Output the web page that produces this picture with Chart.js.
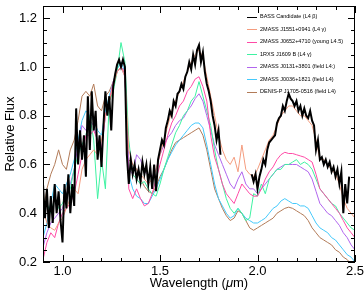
<!DOCTYPE html>
<html>
<head>
<meta charset="utf-8">
<script src="https://cdn.jsdelivr.net/npm/chart.js@4/dist/chart.umd.min.js"></script>
<style>
  html, body { margin: 0; padding: 0; background: #fff; }
  canvas { display: block; }
</style>
</head>
<body>
<canvas id="spec" width="364" height="291"></canvas>
<script>
// wavelength grids (micron)
const wlFine = [
  0.90,0.91,0.92,0.93,0.94,0.95,0.96,0.97,0.98,0.99,
  1.00,1.01,1.02,1.03,1.04,1.05,1.06,1.07,1.08,1.09,
  1.10,1.11,1.12,1.13,1.14,1.15,1.16,1.17,1.18,1.19,
  1.20,1.21,1.22,1.23,1.24,1.25,1.26,1.27,1.28,1.29,
  1.30,1.31,1.32,1.33,1.34,1.35,1.36,1.37,1.38,1.39,
  1.40,1.41,1.42,1.43,1.44,1.45,1.46,1.47,1.48,1.49,
  1.50,1.51,1.52,1.53,1.54,1.55,1.56,1.57,1.58,1.59,
  1.60,1.61,1.62,1.63,1.64,1.65,1.66,1.67,1.68,1.69,
  1.70,1.71,1.72,1.73,1.74,1.75,1.76,1.77,1.78,1.79,
  1.80,1.81,1.82,1.83,1.84,1.85,1.86,1.87,1.88,1.89,
  1.90,1.91,1.92,1.93,1.94,1.95,1.96,1.97,1.98,1.99,
  2.00,2.01,2.02,2.03,2.04,2.05,2.06,2.07,2.08,2.09,
  2.10,2.11,2.12,2.13,2.14,2.15,2.16,2.17,2.18,2.19,
  2.20,2.21,2.22,2.23,2.24,2.25,2.26,2.27,2.28,2.29,
  2.30,2.31,2.32,2.33,2.34,2.35,2.36,2.37,2.38,2.39,
  2.40,2.41,2.42,2.43,2.44,2.45,2.46,2.47
];
const wlCoarse = [
  0.90,0.92,0.94,0.96,0.98,1.00,1.02,1.04,1.06,1.08,
  1.10,1.12,1.14,1.16,1.18,1.20,1.22,1.24,1.26,1.28,
  1.30,1.32,1.34,1.36,1.38,1.40,1.42,1.44,1.46,1.48,
  1.50,1.52,1.54,1.56,1.58,1.60,1.62,1.64,1.66,1.68,
  1.70,1.72,1.74,1.76,1.78,1.80,1.82,1.84,1.86,1.88,
  1.90,1.92,1.94,1.96,1.98,2.00,2.02,2.04,2.06,2.08,
  2.10,2.12,2.14,2.16,2.18,2.20,2.22,2.24,2.26,2.28,
  2.30,2.32,2.34,2.36,2.38,2.40,2.42,2.44,2.46,2.48,
  2.50
];

// relative flux per object
const fluxBass = [
  0.52,0.38,0.50,0.34,0.47,0.36,0.52,0.40,0.49,0.37,
  0.28,0.52,0.42,0.56,0.40,0.52,0.43,0.83,0.60,0.74,
  0.62,0.72,0.55,0.88,0.66,0.90,0.74,0.82,0.62,0.72,
  0.59,0.76,0.90,0.80,0.88,0.74,0.92,0.97,1.01,1.03,
  1.00,1.03,1.00,0.64,0.52,0.62,0.56,0.60,0.54,0.58,
  0.53,0.61,0.56,0.60,0.52,0.59,0.50,0.60,0.49,0.62,
  0.66,0.70,0.68,0.75,0.78,0.82,0.80,0.86,0.84,0.89,
  0.90,0.93,0.91,0.96,0.98,1.02,0.99,1.05,1.01,1.07,
  1.09,1.02,1.06,0.98,0.93,0.90,0.86,0.80,0.76,0.70,
  0.74,0.64,null,null,null,null,null,null,null,null,
  null,null,null,null,null,null,null,0.56,0.53,0.56,
  0.50,0.55,0.58,0.62,0.60,0.66,0.69,0.70,0.71,0.72,
  0.77,0.79,0.80,0.84,0.82,0.86,0.89,0.87,0.86,0.84,
  0.86,0.82,0.84,0.80,0.83,0.80,0.79,0.82,0.78,0.76,
  0.66,0.70,0.62,0.63,0.60,0.62,0.59,0.61,0.57,0.59,
  0.55,0.58,0.52,0.57,0.40,0.52,0.44,0.55
];
const fluxJ1551 = [
  0.42,0.36,0.34,0.33,0.36,0.38,0.42,0.46,0.50,0.48,
  0.58,0.62,0.64,0.66,0.64,0.70,0.80,0.86,0.92,0.98,
  1.00,0.96,0.66,0.60,0.58,0.56,0.54,0.52,0.54,0.58,
  0.64,0.70,0.76,0.82,0.86,0.90,0.94,0.98,1.02,1.05,
  1.07,1.04,0.96,0.88,0.80,0.72,0.66,0.62,0.60,0.63,
  0.57,0.68,0.58,0.56,0.55,0.58,0.62,0.66,0.70,0.72,
  0.76,0.80,0.82,0.84,0.84,0.82,0.80,0.80,0.78,0.76,
  0.70,0.62,0.62,0.60,0.58,0.56,0.52,0.46,0.42,0.40,
  0.38
];
const fluxJ0652 = [
  0.21,0.28,0.32,0.30,0.36,0.40,0.42,0.44,0.48,0.56,
  0.64,0.72,0.72,0.74,0.70,0.66,0.80,0.86,0.94,0.98,
  1.00,0.98,0.50,0.46,0.50,0.46,0.43,0.44,0.48,0.54,
  0.60,0.66,0.72,0.77,0.80,0.84,0.86,0.90,0.92,0.95,
  0.96,0.92,0.86,0.72,0.63,0.58,0.52,0.48,0.46,0.44,
  0.48,0.52,0.50,0.48,0.47,0.47,0.50,0.54,0.57,0.59,
  0.62,0.64,0.65,0.645,0.645,0.64,0.635,0.63,0.62,0.61,
  0.56,0.50,0.48,0.46,0.44,0.42,0.40,0.37,0.34,0.32,
  0.30
];
const fluxJ1609 = [
  0.40,0.44,0.40,0.46,0.42,0.44,0.48,0.50,0.58,0.64,
  0.68,0.72,0.80,0.70,0.46,0.62,0.50,0.86,0.90,0.98,
  1.10,1.02,0.70,0.56,0.54,0.52,0.53,0.50,0.48,0.47,
  0.52,0.58,0.63,0.68,0.73,0.76,0.80,0.82,0.86,0.88,
  0.94,0.88,0.82,0.76,0.66,0.58,0.52,0.46,0.42,0.40,
  0.42,0.40,0.37,0.38,0.48,0.47,0.52,0.48,0.54,0.56,
  0.58,0.58,0.60,0.60,0.61,0.62,0.60,0.61,0.60,0.58,
  0.54,0.50,0.48,0.46,0.44,0.43,0.40,0.38,0.36,0.34,
  0.33
];
const fluxJ0131 = [
  0.26,0.32,0.36,0.38,0.40,0.42,0.48,0.52,0.58,0.68,
  0.76,0.74,0.78,0.76,0.70,0.66,0.80,0.86,0.92,0.98,
  1.00,0.96,0.58,0.56,0.64,0.62,0.57,0.56,0.55,0.58,
  0.64,0.68,0.71,0.73,0.76,0.78,0.79,0.82,0.84,0.87,
  0.89,0.86,0.80,0.74,0.68,0.64,0.60,0.56,0.52,0.50,
  0.54,0.57,0.52,0.50,0.50,0.48,0.50,0.52,0.54,0.56,
  0.58,0.59,0.60,0.60,0.60,0.60,0.59,0.58,0.57,0.54,
  0.49,0.44,0.42,0.40,0.39,0.37,0.35,0.32,0.30,0.27,
  0.25
];
const fluxJ0036 = [
  0.30,0.36,0.44,0.52,0.50,0.48,0.52,0.56,0.62,0.70,
  0.78,0.82,0.80,0.78,0.74,0.72,0.82,0.88,0.94,0.99,
  1.02,0.98,0.56,0.50,0.47,0.46,0.44,0.44,0.47,0.50,
  0.54,0.58,0.62,0.65,0.68,0.70,0.72,0.74,0.76,0.77,
  0.77,0.75,0.68,0.60,0.52,0.46,0.43,0.40,0.38,0.39,
  0.42,0.40,0.38,0.37,0.36,0.36,0.37,0.38,0.40,0.42,
  0.43,0.45,0.46,0.45,0.44,0.44,0.43,0.43,0.42,0.39,
  0.36,0.34,0.33,0.32,0.30,0.29,0.27,0.25,0.23,0.22,
  0.20
];
const fluxJ1705 = [
  0.40,0.50,0.56,0.60,0.66,0.60,0.58,0.66,0.70,0.78,
  0.88,0.90,0.88,0.93,0.84,0.82,0.88,0.90,0.94,0.98,
  1.00,0.97,0.62,0.60,0.58,0.54,0.51,0.49,0.48,0.51,
  0.55,0.58,0.62,0.66,0.69,0.70,0.71,0.72,0.73,0.74,
  0.75,0.72,0.66,0.58,0.50,0.46,0.42,0.39,0.37,0.38,
  0.41,0.40,0.37,0.34,0.33,0.34,0.35,0.36,0.37,0.38,
  0.40,0.41,0.42,0.425,0.42,0.41,0.40,0.39,0.37,0.34,
  0.32,0.30,0.29,0.28,0.27,0.25,0.24,0.22,0.21,0.19,
  0.18
];

const labels = [
  "BASS Candidate (L4 \u03b2)",
  "2MASS J1551+0941 (L4 \u03b3)",
  "2MASS J0652+4710 (young L4.5)",
  "1RXS J1609 B (L4 \u03b3)",
  "2MASS J0131+3801 (field L4:)",
  "2MASS J0036+1821 (field L4)",
  "DENIS-P J1705-0516 (field L4)"
];
const colors = ["#000000", "#f49c7e", "#ff4aa6", "#3ef2a2", "#b165ee", "#45c9fb", "#b27b58"];

const xTicks = [1.0, 1.5, 2.0, 2.5];
const yTicks = [0.2, 0.4, 0.6, 0.8, 1.0, 1.2];

const FONT = "'Liberation Sans', Arial, Helvetica, sans-serif";

function pts(wl, flux) {
  return wl.map((x, i) => ({ x: x, y: flux[i] }));
}

const series = [
  [wlFine, fluxBass], [wlCoarse, fluxJ1551], [wlCoarse, fluxJ0652], [wlCoarse, fluxJ1609],
  [wlCoarse, fluxJ0131], [wlCoarse, fluxJ0036], [wlCoarse, fluxJ1705]
];

const datasets = series.map((s, i) => ({
  label: labels[i],
  data: pts(s[0], s[1]),
  borderColor: colors[i],
  borderWidth: i === 0 ? 2 : 1,
  pointRadius: 0,
  tension: 0,
  spanGaps: false
}));

// IDL-style box with inward ticks, titles and the legend
const frame = {
  id: "frame",
  afterDraw(chart) {
    const { ctx, chartArea: a, scales: { x, y } } = chart;
    ctx.save();
    ctx.strokeStyle = "#000";
    ctx.lineWidth = 1;
    ctx.strokeRect(a.left + 0.5, a.top + 0.5, a.right - a.left - 1, a.bottom - a.top - 1);

    ctx.beginPath();
    for (let k = 9; k <= 25; k++) {
      const v = k / 10;
      const len = k % 5 === 0 ? 7 : 4;
      const px = Math.round(x.getPixelForValue(v)) + 0.5;
      ctx.moveTo(px, a.bottom); ctx.lineTo(px, a.bottom - len);
      ctx.moveTo(px, a.top); ctx.lineTo(px, a.top + len);
    }
    for (let k = 4; k <= 25; k++) {
      const v = k / 20;
      const len = k % 4 === 0 ? 7 : 4;
      const py = Math.round(y.getPixelForValue(v)) + 0.5;
      ctx.moveTo(a.left, py); ctx.lineTo(a.left + len, py);
      ctx.moveTo(a.right, py); ctx.lineTo(a.right - len, py);
    }
    ctx.stroke();

    // axis titles
    ctx.fillStyle = "#000";
    ctx.textBaseline = "middle";
    const parts = [["Wavelength (", "13px " + FONT], ["\u03bc", "italic 13px " + FONT], ["m)", "13px " + FONT]];
    let w = 0;
    parts.forEach(p => { ctx.font = p[1]; w += ctx.measureText(p[0]).width; });
    let tx = (a.left + a.right) / 2 - w / 2;
    ctx.textAlign = "left";
    parts.forEach(p => { ctx.font = p[1]; ctx.fillText(p[0], tx, 283); tx += ctx.measureText(p[0]).width; });

    ctx.save();
    ctx.translate(10, (a.top + a.bottom) / 2);
    ctx.rotate(-Math.PI / 2);
    ctx.textAlign = "center";
    ctx.font = "13px " + FONT;
    ctx.fillText("Relative Flux", 0, 0);
    ctx.restore();

    // legend
    ctx.font = "5.5px " + FONT;
    ctx.textAlign = "left";
    chart.data.datasets.forEach((d, i) => {
      const ly = a.top + 10.5 + i * 12.5;
      ctx.strokeStyle = d.borderColor;
      ctx.lineWidth = 1;
      ctx.beginPath();
      ctx.moveTo(a.right - 108, Math.round(ly) + 0.5);
      ctx.lineTo(a.right - 98, Math.round(ly) + 0.5);
      ctx.stroke();
      ctx.fillStyle = "#000";
      ctx.fillText(d.label, a.right - 95, ly);
    });
    ctx.restore();
  }
};

new Chart(document.getElementById("spec"), {
  type: "line",
  data: { datasets: datasets },
  options: {
    responsive: false,
    animation: false,
    devicePixelRatio: 1,
    layout: { padding: { top: 6, right: 9, left: 0, bottom: 0 } },
    plugins: { legend: { display: false }, tooltip: { enabled: false } },
    scales: {
      x: {
        type: "linear",
        min: 0.9,
        max: 2.5,
        afterBuildTicks: s => { s.ticks = xTicks.map(v => ({ value: v })); },
        afterFit: s => { s.height = 29; s.paddingLeft = 0; s.paddingRight = 0; },
        grid: { display: false, drawTicks: false },
        border: { display: false },
        ticks: {
          autoSkip: false, maxRotation: 0, padding: 2, color: "#000",
          font: { family: FONT, size: 13 },
          callback: v => v.toFixed(1)
        }
      },
      y: {
        min: 0.2,
        max: 1.25,
        afterBuildTicks: s => { s.ticks = yTicks.map(v => ({ value: v })); },
        afterFit: s => { s.width = 43; s.paddingTop = 0; s.paddingBottom = 0; },
        grid: { display: false, drawTicks: false },
        border: { display: false },
        ticks: {
          padding: 6, color: "#000",
          font: { family: FONT, size: 13 },
          callback: v => v.toFixed(1)
        }
      }
    }
  },
  plugins: [frame]
});
</script>
</body>
</html>
